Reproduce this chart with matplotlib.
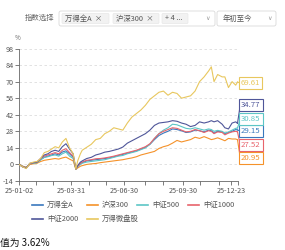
import numpy as np
import matplotlib
matplotlib.use('Agg')
import matplotlib.pyplot as plt
from matplotlib.patches import FancyBboxPatch

plt.rcParams['font.family'] = ['Noto Sans CJK SC', 'DejaVu Sans']

# trading day index since 2025-01-02
days = [0, 4, 8, 12, 16, 20, 24, 28, 32, 36,
        40, 44, 48, 52, 56, 60, 63, 65, 68, 70,
        75, 80, 85, 90, 95, 100, 105, 110, 115, 120,
        125, 130, 135, 140, 145, 150, 155, 160, 165, 170,
        175, 180, 185, 190, 195, 200, 205, 210, 213, 216,
        220, 225, 228, 232, 236, 240, 242]

wind_a = [0, -1.5, -2.5, 0.5, 1, 1.5, 4, 6, 7, 8,
          9, 8, 10.5, 11.5, 9, 6, -3.5, -1, 1, 1.5,
          3, 3.5, 4, 4.5, 5, 5.5, 6.5, 7.5, 8.5, 9.5,
          10.5, 11.5, 13, 14.5, 17, 21, 24.5, 26.5, 28, 30,
          29.5, 28.5, 27, 27.5, 29, 28.5, 27.5, 29, 28.5, 26.5,
          28, 27.5, 26, 27, 28, 29.5, 29.15]
hs300 = [0, -1.5, -2.5, 0, 0.5, 1, 2.5, 3.5, 4, 4.5,
         5, 4.5, 5.5, 6.2, 4.5, 3, -4, -3, -1.5, -1,
         0, 0.5, 0.8, 1.5, 2, 2.5, 3, 3.5, 4, 4.8,
         5.5, 6.5, 8, 9, 10, 11, 13.5, 15, 16, 18,
         20.3, 19, 20, 21, 23, 22, 23.5, 22, 21, 21.5,
         22.5, 21, 20, 22, 21.5, 21.5, 20.95]
zz500 = [0, -2, -3, 0.5, 1, 1.5, 4, 6, 6.5, 7.5,
         8, 7, 9, 10.4, 7, 5, -4, -2, 0, 1,
         2, 2.5, 3, 3.5, 4, 5, 6, 7, 7.6, 9,
         10, 11, 12.5, 14, 17, 22, 26, 29, 31, 34,
         33.5, 32, 30.5, 30, 31, 30, 29, 30, 29.5, 28,
         28.8, 28, 26.5, 27.5, 29, 30.5, 30.85]
zz1000 = [0, -2, -3, 0.5, 1.5, 2, 5, 7, 8, 9,
          10, 9, 12, 13.3, 10, 7, -4, -1.5, 1, 2,
          3.5, 4, 4.8, 5, 5.5, 6.2, 7, 8, 9, 10,
          11, 12, 13.5, 15, 17.5, 22, 26, 28, 29.5, 31,
          30.5, 29, 27.5, 28, 29.5, 28.5, 27, 28.5, 28, 26,
          27.5, 27, 25, 26.5, 27.5, 28, 27.52]
zz2000 = [0, -2, -3, 1, 1.5, 2, 5, 8, 9, 11,
          12, 11, 15, 17.5, 13, 9, -4, -1, 2, 3,
          5, 6, 8, 9, 10.4, 11, 12, 13, 14.7, 18,
          20, 22, 24, 26, 29, 33, 35, 35.5, 36, 37,
          36.5, 35, 34, 32, 33, 36, 35, 36, 37, 36,
          37, 34, 31, 30, 35, 36, 34.77]
micro = [0, -2, -3.5, 1, 2, 2.5, 5, 10, 11, 13,
         15, 14, 19, 22, 14, 9, -4, 3, 9, 12,
         14.5, 17, 21, 22, 26, 28, 31, 30, 29, 35,
         40, 43, 46, 50, 55, 58, 61, 62, 58.5, 61,
         60, 56, 57, 58, 62, 70, 74, 79, 82.5, 70,
         76, 74, 74, 65, 70, 67, 69.61]

names = ['万得全A', '沪深300', '中证500', '中证1000', '中证2000', '万得微盘股']
series = [wind_a, hs300, zz500, zz1000, zz2000, micro]
colors = ['#3a78bd', '#f5922a', '#5cc6c6', '#e8646c', '#4f5699', '#e8c75e']
end_labels = ['29.15', '20.95', '30.85', '27.52', '34.77', '69.61']
label_y = [28.2, 5.7, 38.1, 16.7, 50, 68.9]

xtick_pos = [0, 58, 116, 182, 235]
xtick_labels = ['25-01-02', '25-03-31', '25-06-30', '25-09-30', '25-12-23']
xminor_pos = [19, 38, 77, 96, 139, 160, 201, 221, 242]
yticks = [-14, 0, 14, 28, 42, 56, 70, 84, 98]

fig = plt.figure(figsize=(2.85, 2.5), dpi=100)

# overlay in pixel coords for the controls and legend
ov = fig.add_axes([0, 0, 1, 1])
ov.set_xlim(0, 285)
ov.set_ylim(250, 0)
ov.axis('off')

ov.text(25, 17.5, '指数选择', fontsize=5.3, color='#666666', va='center')
ov.add_patch(FancyBboxPatch((59, 11), 156, 15, boxstyle='round,pad=0,rounding_size=2',
                            fc='white', ec='#d9d9d9', lw=0.6))
ov.add_patch(FancyBboxPatch((217, 11), 59, 15, boxstyle='round,pad=0,rounding_size=2',
                            fc='white', ec='#d9d9d9', lw=0.6))
for x0, w, t in [(62, 47, '万得全A  ×'), (113, 46, '沪深300  ×'), (162, 26, '+ 4 ...')]:
    ov.add_patch(FancyBboxPatch((x0, 13.5), w, 10, boxstyle='round,pad=0,rounding_size=1',
                                fc='#f2f2f2', ec='#e4e4e4', lw=0.4))
    ov.text(x0 + 3, 18.5, t, fontsize=5.3, color='#555555', va='center')
ov.text(208, 18.5, '∨', fontsize=4.5, color='#999999', va='center', ha='center',
        family='DejaVu Sans')
ov.text(223, 18.5, '年初至今', fontsize=5.3, color='#555555', va='center')
ov.text(269, 18.5, '∨', fontsize=4.5, color='#999999', va='center', ha='center',
        family='DejaVu Sans')
ov.text(15, 38, '%', fontsize=4.5, color='#666666', va='center')

# legend by hand, two rows
leg_pos = [(32, 205), (87, 205), (137, 205), (188, 205), (32, 219), (87, 219)]
for (lx, ly), n, c in zip(leg_pos, names, colors):
    ov.plot([lx, lx + 11], [ly, ly], color=c, lw=1.2)
    ov.text(lx + 15, ly, n, fontsize=5.3, color='#555555', va='center')

ov.text(0, 243, '值为 3.62%', fontsize=7, color='#111111', va='center')

ax = fig.add_axes([19 / 285, 1 - 181 / 250, 218.5 / 285, 132.5 / 250])
ax.set_xlim(0, 242)
ax.set_ylim(-14, 98)
ax.set_yticks(yticks)
ax.set_yticklabels([str(v) for v in yticks], fontsize=5.2, color='#555555')
ax.set_xticks(xtick_pos)
ax.set_xticklabels(xtick_labels, fontsize=5.2, color='#555555')
ax.set_xticks(xminor_pos, minor=True)
ax.tick_params(axis='both', which='both', length=3, width=0.6, color='#666666', pad=1)
ax.grid(axis='y', linestyle=(0, (3, 3)), color='#dddddd', lw=0.6)
ax.set_axisbelow(True)
for s in ['top', 'right']:
    ax.spines[s].set_visible(False)
for s in ['left', 'bottom']:
    ax.spines[s].set_color('#666666')
    ax.spines[s].set_linewidth(0.6)
ax.patch.set_alpha(0)

order = [1, 2, 3, 0, 4, 5]
for i in order:
    ax.plot(days, series[i], color=colors[i], lw=0.8, zorder=3 + i)

# end labels with leader lines
for i in range(len(series)):
    yv = series[i][-1]
    ax.plot([days[-1], 245], [yv, label_y[i]], color=colors[i], lw=0.8, clip_on=False)
    ax.text(246, label_y[i], end_labels[i], fontsize=5.6, color=colors[i], va='center',
            ha='left', clip_on=False,
            bbox=dict(boxstyle='square,pad=0.25', fc='white', ec=colors[i], lw=0.8))

fig.savefig('out.png', dpi=100)
